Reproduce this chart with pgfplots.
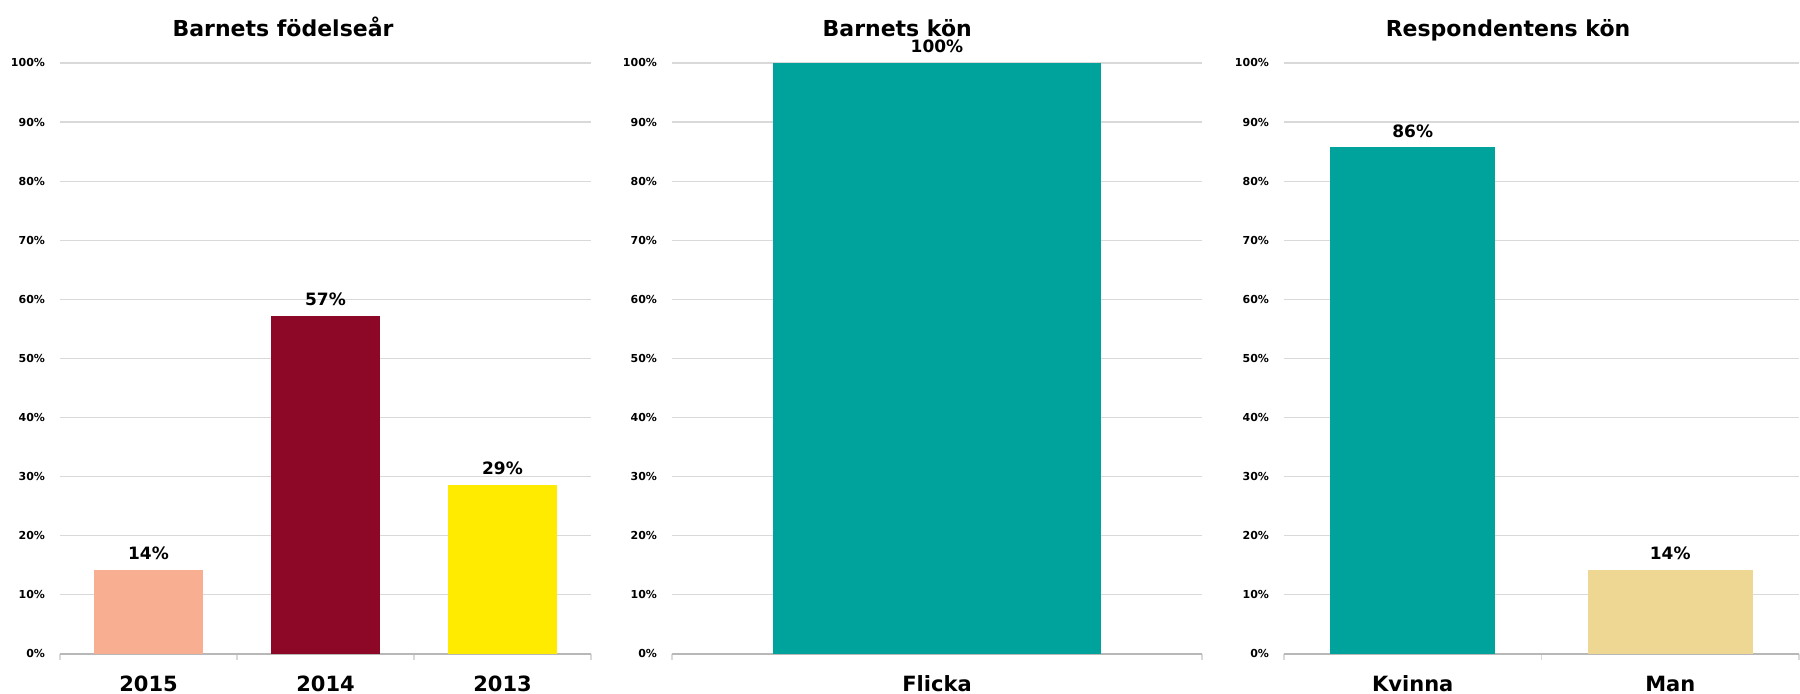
\documentclass[border=0pt]{standalone}
\usepackage{pgfplots}
\pgfplotsset{compat=1.18}
\usepackage{fontspec}
\setmainfont{DejaVu Sans}

\definecolor{salmon}{HTML}{F7AE91}
\definecolor{wine}{HTML}{8D0826}
\definecolor{sun}{HTML}{FFEB00}
\definecolor{teal}{HTML}{00A39B}
\definecolor{sand}{HTML}{EDD793}
\definecolor{gridgray}{HTML}{D9D9D9}

\pgfplotsset{
  panel/.style={
    scale only axis,
    height=295.5pt,
    ybar, bar shift=0pt,
    ymin=0, ymax=100,
    ytick={0,10,...,100},
    yticklabels={0\%,10\%,20\%,30\%,40\%,50\%,60\%,70\%,80\%,90\%,100\%},
    yticklabel style={font=\bfseries\fontsize{5.5}{6}\selectfont, anchor=east, xshift=-4pt},
    ymajorgrids, grid style={gridgray, line width=0.6pt},
    axis line style={draw=none},
    tick pos=left, major tick length=0pt,
    xticklabel style={font=\bfseries\fontsize{10.5}{12}\selectfont, anchor=base, yshift=-19pt},
    extra x tick style={major tick length=3pt, tick align=outside, tick style={gridgray, line width=0.6pt}},
    extra x tick labels={},
    extra y ticks={0}, extra y tick labels={},
    extra y tick style={grid style={gridgray!85!black, line width=1.1pt}},
    title style={font=\bfseries\fontsize{11}{13}\selectfont, anchor=base, yshift=7pt},
    nodes near coords={\pgfmathprintnumber[fixed,precision=0,assume math mode=true]{\pgfplotspointmeta}\%},
    nodes near coords style={font=\bfseries\fontsize{8.5}{10}\selectfont, black, yshift=1.5pt},
    every axis plot/.append style={draw=none},
    clip=false,
  }
}

\begin{document}
\begin{tikzpicture}
\useasboundingbox (0,0) rectangle (900pt,347pt);

\begin{axis}[panel, at={(30pt,20pt)}, anchor=south west, width=265.5pt,
  xmin=-0.5, xmax=2.5, bar width=0.62,
  xtick={0,1,2}, xticklabels={2015,2014,2013},
  extra x ticks={-0.5,0.5,1.5,2.5},
  title={Barnets födelseår}, title style={at={(0.42,1)}}]
\addplot[fill=salmon] coordinates {(0,14.29)};
\addplot[fill=wine] coordinates {(1,57.14)};
\addplot[fill=sun] coordinates {(2,28.57)};
\end{axis}

\begin{axis}[panel, at={(336pt,20pt)}, anchor=south west, width=265pt,
  xmin=-0.5, xmax=0.5, bar width=0.62,
  xtick={0}, xticklabels={Flicka},
  extra x ticks={-0.5,0.5},
  title={Barnets kön}, title style={at={(0.425,1)}}]
\addplot[fill=teal] coordinates {(0,100)};
\end{axis}

\begin{axis}[panel, at={(642pt,20pt)}, anchor=south west, width=257.5pt,
  xmin=-0.5, xmax=1.5, bar width=0.64,
  xtick={0,1}, xticklabels={Kvinna,Man},
  extra x ticks={-0.5,0.5,1.5},
  title={Respondentens kön}, title style={at={(0.435,1)}}]
\addplot[fill=teal] coordinates {(0,85.71)};
\addplot[fill=sand] coordinates {(1,14.29)};
\end{axis}
\end{tikzpicture}
\end{document}
